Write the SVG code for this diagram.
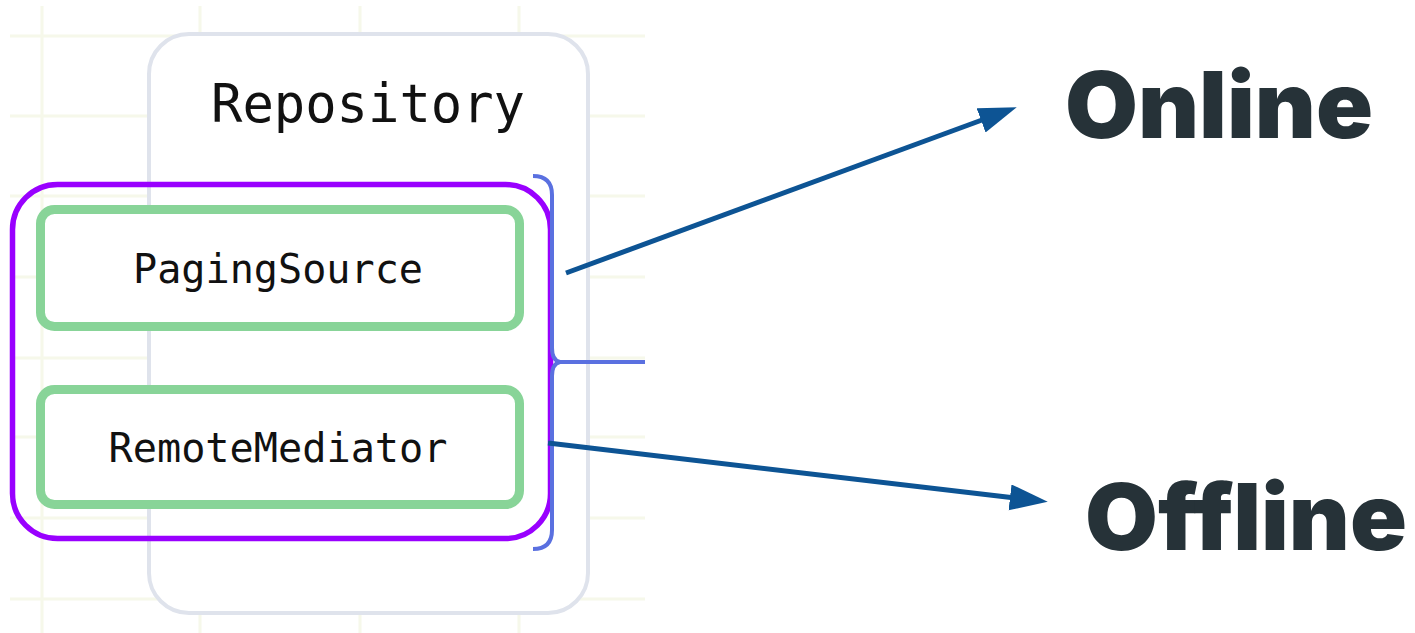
<svg xmlns="http://www.w3.org/2000/svg" width="1415" height="633" viewBox="0 0 1415 633">
  <style>
    .grid line { stroke: #f6f8ea; stroke-width: 3; }
    .mono { font-family: "DejaVu Sans Mono", "Liberation Mono", monospace; fill: #111111; text-anchor: middle; }
    .big { font-family: Inter, "Noto Sans", "Liberation Sans", sans-serif; font-weight: 900; font-size: 92px; fill: #263238; }
    .green { fill: #ffffff; stroke: #88d498; stroke-width: 9; }
    .conn { stroke: #0d5494; stroke-width: 5; fill: none; marker-end: url(#arrow); }
  </style>
  <defs>
    <marker id="arrow" markerUnits="userSpaceOnUse" markerWidth="40" markerHeight="28" refX="1" refY="13" orient="auto">
      <path d="M0,0 L38,13 L0,26 z" fill="#0d5494"/>
    </marker>
  </defs>
  <rect width="1415" height="633" fill="#ffffff"/>
  <g class="grid">
    <line x1="42" y1="6" x2="42" y2="633"/>
    <line x1="200" y1="6" x2="200" y2="633"/>
    <line x1="360" y1="6" x2="360" y2="633"/>
    <line x1="519" y1="6" x2="519" y2="633"/>
    <line x1="10" y1="36" x2="645" y2="36"/>
    <line x1="10" y1="116" x2="645" y2="116"/>
    <line x1="10" y1="196" x2="645" y2="196"/>
    <line x1="10" y1="277" x2="645" y2="277"/>
    <line x1="10" y1="358" x2="645" y2="358"/>
    <line x1="10" y1="437" x2="645" y2="437"/>
    <line x1="10" y1="518" x2="645" y2="518"/>
    <line x1="10" y1="599" x2="645" y2="599"/>
  </g>
  <g id="repository">
    <rect x="149" y="34" width="439" height="579" rx="40" fill="#ffffff" stroke="#dfe3ec" stroke-width="4"/>
    <text class="mono" x="368" y="122" font-size="53" textLength="314" lengthAdjust="spacingAndGlyphs">Repository</text>
  </g>
  <g id="paging-group">
    <rect x="12.5" y="184.5" width="538" height="354" rx="45" fill="none" stroke="#9900ff" stroke-width="5.5"/>
  </g>
  <g id="paging-source">
    <rect class="green" x="40.5" y="209.5" width="479" height="117" rx="14"/>
    <text class="mono" x="278" y="283" font-size="41" textLength="290" lengthAdjust="spacingAndGlyphs">PagingSource</text>
  </g>
  <g id="remote-mediator">
    <rect class="green" x="40.5" y="389.5" width="479" height="115" rx="14"/>
    <text class="mono" x="278" y="462" font-size="41" textLength="339" lengthAdjust="spacingAndGlyphs">RemoteMediator</text>
  </g>
  <g id="bracket" fill="none" stroke="#5a70e0" stroke-width="4">
    <path d="M533,176 C545,176 552,182 552,195 L552,348 C552,356 555,361 560,362 L645,362"/>
    <path d="M560,362 C555,363 552,368 552,376 L552,530 C552,543 545,549 533,549"/>
  </g>
  <g id="online">
    <text class="big" x="1065" y="138" textLength="308" lengthAdjust="spacingAndGlyphs">Online</text>
  </g>
  <g id="offline">
    <text class="big" x="1085" y="550" textLength="322" lengthAdjust="spacingAndGlyphs">Offline</text>
  </g>
  <g id="connectors">
    <line class="conn" x1="566" y1="273" x2="982" y2="120"/>
    <line class="conn" x1="548" y1="443" x2="1011" y2="497.5"/>
  </g>
</svg>
